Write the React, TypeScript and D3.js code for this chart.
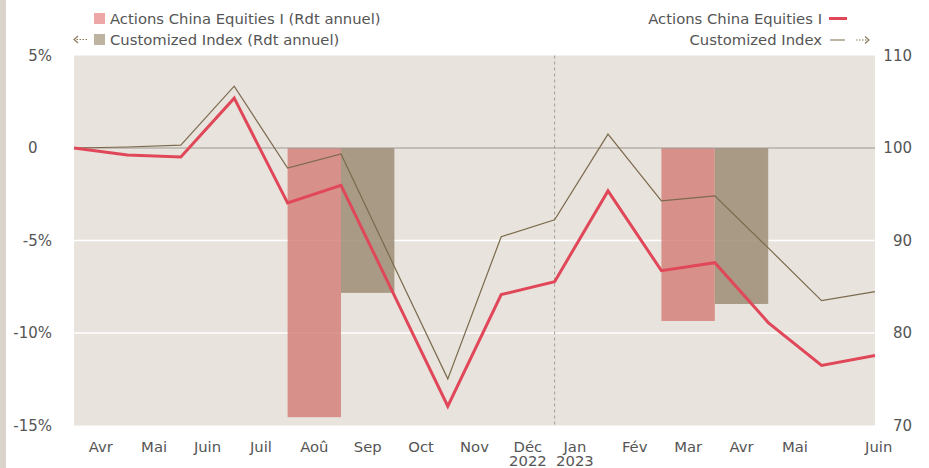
import React from "react";
import * as d3 from "d3";

// Monthly index values (base 100), right axis
const fundValues = [100, 99.25, 99.03, 105.39, 94.07, 95.96, 84.04, 72.08, 84.15, 85.55, 95.36, 86.74, 87.6, 81.13, 76.5, 77.57];
const indexValues = [100, 100.11, 100.32, 106.68, 97.84, 99.35, 87.17, 75.04, 90.4, 92.24, 101.5, 94.29, 94.82, 89.2, 83.5, 84.47];

// Annual returns (%), left axis, grouped around a point index
const barAt = [5, 12];
const fundAnnual = [-14.55, -9.35];
const indexAnnual = [-7.83, -8.43];

// Month labels, their position (in point units) and an optional year line
const monthLabels = ["Avr", "Mai", "Juin", "Juil", "Aoû", "Sep", "Oct", "Nov", "Déc", "Jan", "Fév", "Mar", "Avr", "Mai", "Juin"];
const monthPos = [0.5, 1.5, 2.5, 3.5, 4.5, 5.5, 6.5, 7.5, 8.5, 9.38, 10.5, 11.5, 12.5, 13.5, 15.07];
const monthYear = ["", "", "", "", "", "", "", "", "2022", "2023", "", "", "", "", ""];
const yearBreak = 9;

const leftTicks = [5, 0, -5, -10, -15];
const rightTicks = [110, 100, 90, 80, 70];

const W = 929;
const H = 468;
const plot = { left: 74, right: 875, top: 55.5, bottom: 425.5 };

const FONT = "DejaVu Sans, Verdana, sans-serif";
const TEXT = "#555";
const FUND_LINE = "#e0485a";
const INDEX_LINE = "#7b6a4d";
const FUND_BAR = "#d6837c";
const INDEX_BAR = "#9d8e76";
const ARROW = "#8c7b5c";

// dotted arrow used in the legend to point at an axis
function DottedArrow({ x0, x1, y }: { x0: number; x1: number; y: number }) {
  const dir = x1 > x0 ? 1 : -1;
  return (
    <g stroke={ARROW} strokeWidth={1.2} fill="none">
      <line x1={x0} x2={x1 - dir * 2} y1={y} y2={y} strokeDasharray="1.5,1.5" />
      <path d={`M${x1 - dir * 4},${y - 3.5} L${x1},${y} L${x1 - dir * 4},${y + 3.5}`} />
    </g>
  );
}

export default function App() {
  const x = d3.scaleLinear().domain([0, fundValues.length - 1]).range([plot.left, plot.right]);
  const yL = d3.scaleLinear().domain([-15, 5]).range([plot.bottom, plot.top]);
  const yR = d3.scaleLinear().domain([70, 110]).range([plot.bottom, plot.top]);

  const line = d3
    .line<number>()
    .x((_, i) => x(i))
    .y((d) => yR(d));

  return (
    <svg
      width={W}
      height={H}
      style={{ position: "absolute", left: 0, top: 0, background: "#fff" }}
      fontFamily={FONT}
    >
      <rect x={0} y={0} width={6} height={H} fill="#dad4cd" />

      {/* plot background */}
      <rect
        x={plot.left}
        y={plot.top}
        width={plot.right - plot.left}
        height={plot.bottom - plot.top}
        fill="#e8e3dc"
      />

      {/* white grid lines */}
      {[-5, -10].map((v) => (
        <line key={v} x1={plot.left} x2={plot.right} y1={yL(v)} y2={yL(v)} stroke="#fff" strokeWidth={1.5} />
      ))}

      {/* bars */}
      {barAt.map((c, i) => (
        <g key={c} opacity={0.85}>
          <rect
            x={x(c - 1)}
            y={yL(0)}
            width={x(c) - x(c - 1)}
            height={yL(fundAnnual[i]) - yL(0)}
            fill={FUND_BAR}
          />
          <rect
            x={x(c)}
            y={yL(0)}
            width={x(c + 1) - x(c)}
            height={yL(indexAnnual[i]) - yL(0)}
            fill={INDEX_BAR}
          />
        </g>
      ))}

      {/* zero line */}
      <line x1={plot.left} x2={plot.right} y1={yL(0)} y2={yL(0)} stroke="#9c978f" strokeWidth={1.2} />

      {/* year break */}
      <line
        x1={x(yearBreak)}
        x2={x(yearBreak)}
        y1={plot.top}
        y2={plot.bottom}
        stroke="#a19d98"
        strokeWidth={1}
        strokeDasharray="3,3"
      />

      {/* lines */}
      <path d={line(indexValues) || ""} fill="none" stroke={INDEX_LINE} strokeWidth={1.2} />
      <path d={line(fundValues) || ""} fill="none" stroke={FUND_LINE} strokeWidth={3} />

      {/* left axis */}
      {leftTicks.map((v) => (
        <text
          key={v}
          x={52}
          dx={v === 0 ? -14.5 : 0}
          y={yL(v)}
          textAnchor="end"
          dominantBaseline="central"
          fontSize={15}
          fill={TEXT}
        >
          {v === 0 ? "0" : `${v}%`}
        </text>
      ))}

      {/* right axis */}
      {rightTicks.map((v) => (
        <text key={v} x={912} y={yR(v)} textAnchor="end" dominantBaseline="central" fontSize={15} fill={TEXT}>
          {v}
        </text>
      ))}

      {/* x axis: month labels, with the year on a second line where needed */}
      {monthLabels.map((m, i) => (
        <text key={i} x={x(monthPos[i])} y={452} textAnchor="middle" fontSize={14.8} fill={TEXT}>
          {m}
          {monthYear[i] && (
            <tspan x={x(monthPos[i])} dy={14}>
              {monthYear[i]}
            </tspan>
          )}
        </text>
      ))}

      {/* left legend */}
      <g fontSize={14.8} fill={TEXT}>
        <rect x={94} y={13} width={11} height={11} fill="#eca7a6" />
        <text x={110} y={24}>Actions China Equities I (Rdt annuel)</text>
        <DottedArrow x0={87} x1={74} y={39.5} />
        <rect x={94} y={34} width={11} height={11} fill="#bdb3a1" />
        <text x={110} y={45}>Customized Index (Rdt annuel)</text>
      </g>

      {/* right legend */}
      <g fontSize={14.8} fill={TEXT}>
        <text x={822} y={24} textAnchor="end">Actions China Equities I</text>
        <line x1={829} x2={847} y1={18.5} y2={18.5} stroke={FUND_LINE} strokeWidth={3} />
        <text x={822} y={45} textAnchor="end">Customized Index</text>
        <line x1={830} x2={845} y1={40} y2={40} stroke="#a89b85" strokeWidth={1.5} />
        <DottedArrow x0={856} x1={869} y={40} />
      </g>
    </svg>
  );
}
